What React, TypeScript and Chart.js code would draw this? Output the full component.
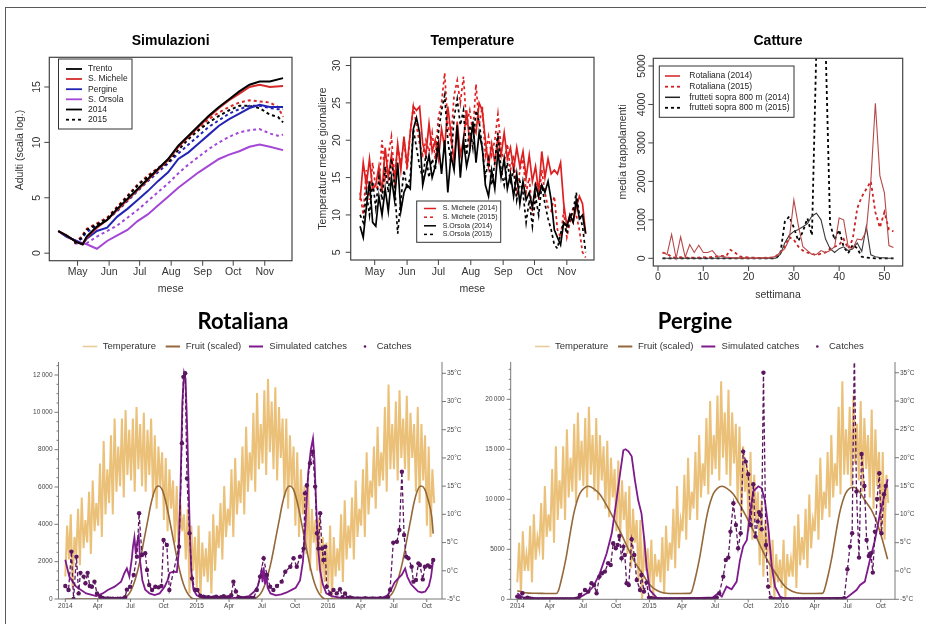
import React, { useEffect, useRef } from "react";
import { Chart, registerables } from "chart.js";

Chart.register(...registerables);

const W = 926;
const H = 624;
const SANS = '"Liberation Sans", Arial, Helvetica, sans-serif';

/* ================= Simulazioni ================= */
const monthTickDays = [121, 152, 182, 213, 244, 274, 305];
const monthTickLabels = ["May", "Jun", "Jul", "Aug", "Sep", "Oct", "Nov"];
const simYTicks = [0, 5, 10, 15];
const simDays2014 = [102, 110, 120, 126, 130, 140, 150, 160, 170, 180, 190, 200, 210, 220, 230, 240, 250, 260, 270, 280, 290, 300, 310, 323];
const simDays2015 = [118, 125, 130, 140, 150, 160, 170, 180, 190, 200, 210, 220, 230, 240, 250, 260, 270, 280, 290, 300, 310, 318, 323];
const trento2014 = [2.0, 1.6, 1.0, 0.8, 1.5, 2.4, 3.0, 4.0, 4.9, 5.8, 6.7, 7.6, 8.5, 9.7, 10.6, 11.5, 12.4, 13.2, 13.9, 14.6, 15.2, 15.5, 15.5, 15.8];
const michele2014 = [2.0, 1.6, 1.0, 0.8, 1.4, 2.3, 3.0, 3.9, 4.8, 5.7, 6.6, 7.5, 8.4, 9.6, 10.5, 11.4, 12.3, 13.1, 13.8, 14.4, 15.0, 15.2, 15.0, 15.1];
const pergine2014 = [2.0, 1.5, 1.1, 0.8, 1.3, 2.0, 2.3, 3.3, 4.0, 4.8, 5.6, 6.5, 7.3, 8.5, 9.1, 9.9, 10.7, 11.5, 12.1, 12.6, 13.1, 13.4, 13.2, 13.2];
const orsola2014 = [2.0, 1.5, 1.1, 0.9, 0.8, 0.4, 1.1, 1.6, 2.1, 2.9, 3.5, 4.3, 5.1, 5.9, 6.6, 7.3, 7.9, 8.5, 8.9, 9.2, 9.6, 9.8, 9.6, 9.3];
const trento2015 = [0.9, 1.4, 2.1, 2.6, 3.1, 4.1, 5.1, 6.1, 6.9, 7.6, 8.2, 9.3, 10.3, 11.1, 11.8, 12.4, 12.9, 13.3, 13.3, 13.1, 12.5, 12.3, 11.8];
const michele2015 = [0.9, 1.5, 2.2, 2.7, 3.2, 4.2, 5.2, 6.2, 7.0, 7.7, 8.3, 9.5, 10.5, 11.3, 12.1, 12.7, 13.2, 13.6, 13.8, 13.7, 13.6, 13.2, 12.3];
const pergine2015 = [0.9, 1.3, 1.9, 2.5, 3.0, 3.8, 4.7, 5.6, 6.5, 7.3, 8.1, 9.0, 9.8, 10.6, 11.4, 12.0, 12.6, 13.0, 13.3, 13.3, 13.1, 13.0, 13.0];
const orsola2015 = [0.9, 0.8, 0.9, 1.5, 2.0, 2.5, 3.2, 3.9, 4.7, 5.5, 6.3, 7.2, 8.0, 8.7, 9.4, 10.0, 10.5, 10.9, 11.1, 11.2, 10.8, 10.6, 10.7];

/* ================= Temperature ================= */
const TEMP_DAY0 = 107;
const TEMP_STEP = 3;
const tempYTicks = [5, 10, 15, 20, 25, 30];
const micheleT2014 = [12, 17, 14, 17.5, 13.5, 14, 16.5, 13, 19, 15, 18, 14.5, 19.5, 16, 20.5, 16.5, 21, 24.5, 24, 24.5, 19.5, 18, 22.2, 18.5, 20, 17.5, 21.5, 19, 24.5, 21, 17, 22.5, 18, 20, 24, 19.5, 22, 21, 25, 24, 20, 16.5, 19.5, 17, 20.5, 18, 21, 17.5, 19, 16, 19, 16.5, 18.5, 15, 18, 14.5, 16.5, 13, 18.5, 15, 17.5, 15.5, 16, 15.5, 17, 11.5, 8.5, 10, 9, 11, 12.5, 11.5, 7.5];
const micheleT2015 = [13, 10, 16, 12, 17, 13.5, 14, 20, 15, 18, 20.5, 15, 19, 17, 20, 16, 21, 24.5, 22, 19.5, 18, 20, 18.5, 21, 17.5, 23, 25, 29, 22, 20, 26, 28, 25, 28.5, 22, 24, 21, 27.5, 22, 24.5, 18, 20.5, 18, 20, 23.5, 19, 17, 19.5, 16, 18, 12.5, 16, 17.5, 13, 15, 10, 14.5, 12, 16, 13, 11, 10.5, 12.5, 8, 7, 10.5, 7, 9, 11, 10, 8, 5, 4.3];
const orsolaT2014 = [8.5, 7, 11, 14.5, 9, 8.5, 12.5, 10, 13.5, 10.5, 15, 12, 17, 10.5, 13, 14, 13.5, 21.5, 23, 21, 14, 16, 18, 15, 16.5, 19.5, 15.5, 20, 13, 18, 16, 22, 15, 20, 16.5, 18.5, 22.5, 17, 21, 19, 14, 12.5, 16, 13.5, 18.5, 15, 17.5, 13.5, 15.5, 12.5, 15.5, 11.5, 14.5, 12, 13, 11, 14, 12.5, 14, 13, 14.5, 12, 8, 7, 6, 9, 8.5, 10, 9, 12, 9.5, 10, 7.5];
const orsolaT2015 = [10, 9, 13, 10, 14.5, 11, 15, 12, 16.5, 13, 17.5, 14, 7.5, 12, 16, 13.5, 15, 21.5, 19, 16.5, 15, 18, 15, 17.5, 16, 21, 24, 26, 20, 17, 23, 25.5, 22, 24, 18, 22, 19, 24, 22.5, 19, 15, 17.5, 14, 17, 21, 16, 14, 17, 14.5, 16, 12, 14.5, 13, 9, 12, 8.5, 12.5, 10, 14, 11.5, 9.5, 8, 6, 5.5, 7.5, 9, 7.5, 9.5, 10.5, 13, 10, 8.5, 5];

/* ================= Catture ================= */
const weekTicks = [0, 10, 20, 30, 40, 50];
const catYTicks = [0, 1000, 2000, 3000, 4000, 5000];
const rotaliana2014 = [150, 100, 620, 0, 560, 30, 360, 150, 340, 150, 150, 200, 60, 50, 30, 20, 10, 10, 10, 5, 5, 5, 10, 10, 20, 50, 150, 250, 500, 1520, 850, 300, 200, 100, 100, 200, 150, 200, 300, 1050, 1000, 300, 250, 500, 480, 700, 2000, 4030, 2150, 1700, 330, 280];
const rotaliana2015 = [150, 120, 30, 20, 30, 20, 20, 15, 20, 30, 20, 40, 50, 60, 50, 220, 150, 50, 30, 20, 20, 10, 10, 15, 20, 50, 150, 300, 550, 480, 300, 200, 150, 120, 80, 120, 150, 250, 300, 350, 500, 250, 500, 1300, 1600, 1800, 2000, 1200, 800, 1200, 750, 700];
const frutteti2014 = [0, 0, 0, 0, 0, 0, 0, 0, 0, 0, 0, 0, 0, 0, 0, 0, 0, 0, 0, 0, 0, 0, 0, 0, 0, 0, 100, 400, 600, 700, 750, 820, 900, 1100, 1170, 1000, 500, 250, 150, 250, 300, 200, 250, 400, 180, 830, 90, 40, 20, 10, 0, 0];
const frutteti2015 = [0, 0, 0, 0, 0, 0, 0, 0, 0, 0, 0, 0, 0, 0, 0, 0, 0, 0, 0, 0, 0, 0, 0, 0, 0, 0, 100, 950, 1090, 800, 450, 700, 1040, 600, 5600, 9500, 5600, 900, 480, 740, 300, 130, 350, 260, 40, 20, 10, 0, 0, 0, 0, 0];

/* ================= Rotaliana / Pergine ================= */
const quarterTickDays = [0, 90, 181, 273, 365, 455, 546, 638, 730, 821, 912, 1004];
const quarterLabels = ["2014", "Apr", "Jul", "Oct", "2015", "Apr", "Jul", "Oct", "2016", "Apr", "Jul", "Oct"];
const tempAxisTicks = [-5, 0, 5, 10, 15, 20, 25, 30, 35];
const rotLeftTicks = [0, 2000, 4000, 6000, 8000, 10000, 12000];
const pergLeftTicks = [0, 5000, 10000, 15000, 20000];
const BAND_STEP = 365.25 / 72;

const rotTemp = [
  -1, 8, 2, 10, -3, 6, 3, 11, 1, 13, 4, 9, 5, 14, 3, 16, 7, 12, 8, 19, 6, 23, 10, 18,
  12, 24, 10, 27, 14, 22, 15, 27, 13, 28.5, 17, 25, 16, 27, 14, 29, 18, 26, 15, 28, 14, 25, 17, 27,
  13, 24, 11, 22, 15, 21, 9, 20, 7, 18, 11, 16, 5, 15, 3, 12, 7, 10, 2, 11, -4, 8, 0, 6,
  -3, 8, -5, 5, -1, 4, -2, 7, -4, 10, 0, 8, 4, 12, 2, 15, 6, 11, 8, 18, 6, 20, 10, 16,
  12, 22, 10, 25.5, 14, 21, 16, 28, 14, 31.5, 18, 26, 19, 32, 17, 34, 21, 30, 18, 32.5, 16, 29, 20, 27,
  13, 27, 11, 24, 15, 22, 8, 21, 6, 18, 10, 15, 3, 15, 0, 11, 5, 9, 0, 9.5, -4, 6, -2, 5,
  -3, 8, -5, 6, -1, 4, 0, 10, -2, 12.5, 2, 8, 4, 13, 2, 16, 6, 11, 8, 18, 6, 21, 10, 16,
  13, 22, 11, 25.5, 15, 21, 16, 29, 14, 33, 18, 26, 18, 30, 16, 32, 20, 27, 18, 31, 16, 28, 20, 26,
  14, 29, 12, 26, 16, 24, 8, 22, 6, 18, 12,
];
const rotFruitDays = [0, 158, 168, 178, 188, 198, 208, 218, 228, 238, 248, 258, 268, 278, 288, 298, 308, 318, 328, 338, 348, 358, 523, 533, 543, 553, 563, 573, 583, 593, 603, 613, 623, 633, 643, 653, 663, 673, 683, 693, 703, 713, 723, 888, 898, 908, 918, 928, 938, 948, 958, 968, 978, 988, 998, 1008, 1018, 1022];
const rotFruit = [0, 0, 100, 300, 700, 1300, 2100, 3100, 4100, 5100, 5800, 6050, 5900, 5300, 4400, 3400, 2400, 1500, 800, 350, 100, 0, 0, 100, 300, 700, 1300, 2100, 3100, 4100, 5100, 5800, 6050, 5900, 5300, 4400, 3400, 2400, 1500, 800, 350, 100, 0, 0, 100, 300, 700, 1300, 2100, 3100, 4100, 5100, 5800, 6050, 5900, 5300, 4400, 3500];
const rotSimDays = [0, 11, 30, 58, 86, 104, 118, 137, 155, 164, 171, 178, 185, 188, 192, 196, 200, 204, 208, 214, 222, 234, 248, 262, 276, 284, 290, 300, 310, 315, 320, 325, 330, 334, 338, 342, 346, 350, 356, 365, 380, 400, 430, 460, 490, 510, 525, 535, 540, 545, 548, 551, 555, 558, 562, 570, 585, 600, 615, 630, 640, 652, 660, 667, 675, 682, 688, 692, 697, 702, 708, 715, 725, 740, 760, 800, 850, 880, 895, 905, 915, 925, 935, 944, 950, 960, 970, 980, 990, 1000, 1010, 1016, 1022];
const rotSim = [2100, 1200, 660, 300, 160, 300, 480, 660, 930, 1380, 1640, 1200, 2200, 2800, 3300, 2400, 3100, 3400, 2000, 1000, 500, 300, 210, 300, 660, 1000, 1400, 1460, 1450, 2500, 6000, 10500, 12100, 11800, 9500, 6500, 3500, 1500, 500, 200, 80, 30, 20, 50, 80, 150, 400, 700, 1100, 1500, 900, 1700, 800, 1400, 600, 300, 200, 250, 350, 500, 600, 1000, 2000, 4000, 6800, 8000, 8600, 7500, 5000, 2800, 1500, 800, 300, 150, 80, 30, 20, 50, 200, 500, 900, 1100, 1300, 1640, 1200, 800, 600, 400, 350, 400, 700, 1200, 2100];
const rotCatchDays = [0, 9, 17, 23, 31, 37, 42, 51, 56, 62, 68, 74, 81, 88, 97, 104, 111, 118, 125, 132, 139, 146, 153, 160, 166, 171, 180, 190, 199, 205, 213, 222, 227, 233, 241, 250, 259, 267, 273, 282, 289, 316, 324, 328, 333, 338, 345, 352, 361, 367, 375, 384, 391, 398, 405, 412, 419, 426, 433, 440, 447, 454, 461, 467, 474, 481, 488, 495, 502, 509, 516, 523, 532, 541, 551, 560, 569, 578, 588, 601, 611, 625, 634, 643, 652, 662, 666, 671, 680, 687, 694, 699, 703, 708, 713, 717, 722, 726, 736, 745, 754, 763, 770, 777, 784, 791, 798, 805, 812, 819, 826, 833, 840, 847, 854, 861, 868, 875, 882, 889, 896, 902, 911, 921, 928, 935, 941, 947, 953, 962, 967, 974, 981, 985, 993, 999, 1007, 1013, 1022];
const rotCatch = [700, 480, 2540, 0, 2270, 300, 1400, 1200, 840, 1400, 700, 660, 930, 300, 120, 50, 20, 30, 10, 20, 0, 10, 20, 10, 100, 500, 660, 1290, 2270, 4590, 2360, 2450, 1550, 750, 480, 660, 625, 700, 3160, 2890, 480, 2800, 8340, 11900, 12090, 6460, 3520, 1100, 480, 480, 180, 120, 80, 100, 50, 80, 120, 60, 100, 150, 80, 100, 200, 930, 400, 100, 50, 20, 40, 20, 60, 50, 480, 1200, 2180, 1290, 660, 480, 700, 930, 1460, 1730, 2180, 1730, 2270, 2700, 5660, 6100, 7270, 7890, 6020, 3520, 2700, 4590, 2700, 2090, 2800, 660, 300, 480, 300, 520, 100, 300, 50, 80, 40, 20, 30, 10, 20, 40, 10, 20, 30, 10, 20, 40, 20, 30, 100, 480, 3020, 3070, 3700, 6820, 3430, 2270, 2180, 1730, 930, 1020, 1910, 1820, 1050, 1730, 1800, 1730, 2090];

const pergTemp = [
  -2, 5, -4, 7, 0, 3, 0, 8, -2, 10, 2, 6, 4, 12, 2, 15, 6, 10, 7, 18, 5, 22, 9, 16,
  11, 22, 9, 25, 13, 20, 14, 26, 12, 28, 16, 23, 15, 27, 13, 29, 17, 24, 14, 27, 12.5, 24, 16, 22,
  11, 23, 9.5, 20, 13, 18, 7, 19.5, 5.5, 16, 9, 14, 3, 15, 0.5, 11, 5, 9, -2, 9, -5, 6, 0, 4,
  -3, 5.5, -5, 3, -1, 2, -2, 6, -4, 8, 0, 5, 2, 11, 0.5, 15, 4, 9, 7, 17, 5.5, 20, 9, 14,
  11, 21, 9, 24, 13, 19, 15, 27, 13.5, 30, 17, 24, 18, 31, 16, 33.5, 20, 28, 17, 32, 15, 28, 19, 26,
  12, 25.5, 10, 22, 14, 19, 7, 21, 5.5, 17, 9, 14, 1, 12.5, -1, 9, 3, 7, -3, 5.5, -5, 3, -2, 2,
  -3, 5.5, -5, 3, -1, 2, -1, 8, -3, 10, 1, 6, 2, 11, 0.5, 13.5, 4, 9, 7, 17, 5.5, 20, 9, 14,
  11, 21, 9.5, 24, 13, 19, 15, 29, 13.5, 33.5, 17, 25, 17, 29, 15, 31, 19, 26, 16, 30, 14, 27, 18, 24,
  13, 28.5, 11, 25, 15, 21, 7, 21, 5.5, 17, 12,
];
const pergFruitDays = [0, 15, 30, 50, 70, 90, 108, 113, 118, 124, 130, 136, 142, 148, 155, 164, 173, 184, 196, 210, 228, 242, 256, 270, 284, 298, 311, 325, 339, 350, 357, 370, 385, 400, 412, 430, 450, 477, 482, 487, 493, 499, 505, 511, 517, 524, 533, 542, 553, 565, 579, 597, 611, 625, 639, 653, 667, 680, 694, 708, 719, 726, 739, 754, 769, 781, 800, 820, 842, 847, 852, 858, 864, 870, 876, 882, 889, 898, 907, 918, 930, 944, 962, 983, 1004, 1023];
const pergFruit = [850, 700, 620, 600, 590, 580, 580, 800, 1400, 2300, 3300, 4400, 5700, 7000, 8400, 9700, 10600, 11100, 11300, 11100, 10500, 9700, 8800, 7800, 6800, 5700, 4700, 3700, 2900, 2300, 1900, 1300, 900, 680, 600, 580, 580, 590, 800, 1400, 2300, 3300, 4400, 5700, 7000, 8400, 9700, 10600, 11100, 11300, 11100, 10500, 9700, 8800, 7800, 6800, 5700, 4700, 3700, 2900, 2300, 1900, 1300, 900, 680, 600, 580, 580, 590, 800, 1400, 2300, 3300, 4400, 5700, 7000, 8400, 9700, 10600, 11100, 11200, 10800, 9800, 8600, 6500, 4000];
const pergSimDays = [0, 10, 26, 164, 192, 210, 228, 247, 261, 274, 284, 293, 299, 307, 316, 325, 334, 343, 351, 357, 366, 385, 403, 541, 555, 565, 578, 592, 606, 615, 624, 634, 643, 652, 666, 675, 684, 693, 703, 712, 726, 744, 910, 937, 947, 960, 974, 988, 1002, 1011, 1023];
const pergSim = [600, 300, 0, 0, 600, 1270, 2600, 4600, 6600, 9900, 12600, 14900, 15000, 14800, 14300, 11900, 9900, 8600, 5900, 3300, 930, 170, 0, 200, 600, 270, 1270, 1000, 1770, 3900, 5300, 5900, 8600, 10800, 11300, 11100, 9900, 7300, 3300, 1270, 270, 0, 170, 930, 1430, 1770, 3900, 5900, 8600, 9900, 12000];
const pergCatchDays = [0, 7, 14, 21, 28, 35, 42, 49, 56, 63, 70, 77, 84, 91, 98, 105, 112, 119, 126, 133, 140, 147, 154, 161, 168, 173, 187, 196, 205, 212, 219, 227, 234, 242, 251, 258, 265, 272, 277, 282, 288, 293, 297, 302, 308, 316, 323, 330, 339, 343, 350, 357, 364, 371, 378, 385, 392, 399, 406, 413, 420, 427, 434, 441, 448, 455, 462, 469, 476, 483, 490, 497, 504, 511, 518, 525, 532, 539, 546, 551, 558, 569, 576, 583, 589, 597, 604, 610, 617, 624, 631, 638, 645, 652, 658, 664, 668, 672, 675, 680, 687, 693, 700, 707, 714, 721, 728, 735, 742, 749, 756, 763, 770, 777, 784, 791, 798, 805, 812, 819, 826, 833, 840, 847, 854, 861, 868, 875, 882, 889, 896, 903, 912, 919, 925, 931, 937, 944, 951, 959, 965, 971, 977, 982, 988, 994, 1000, 1006, 1013, 1018];
const pergCatch = [270, 100, 600, 50, 150, 80, 30, 20, 10, 20, 0, 10, 20, 0, 10, 0, 20, 10, 0, 10, 0, 20, 10, 30, 100, 430, 930, 770, 1600, 1430, 600, 2270, 2600, 2770, 3600, 3430, 5600, 5100, 5430, 6330, 4100, 5270, 4430, 1600, 1430, 6000, 4430, 1930, 930, 2430, 770, 1670, 170, 100, 50, 20, 0, 10, 0, 20, 0, 10, 0, 0, 10, 0, 20, 0, 10, 0, 10, 0, 20, 0, 10, 0, 20, 30, 50, 170, 600, 2270, 3930, 4170, 6770, 9600, 7430, 5100, 6600, 14770, 13770, 12500, 7430, 11500, 6270, 7770, 8700, 8430, 7000, 22670, 5430, 1270, 170, 0, 10, 0, 20, 0, 10, 0, 0, 10, 0, 20, 0, 10, 0, 0, 10, 0, 20, 0, 10, 0, 10, 0, 20, 0, 10, 0, 20, 100, 3000, 5270, 6600, 25000, 10770, 4170, 14530, 11330, 5930, 4330, 4600, 2670, 6770, 10030, 12600, 6600, 10500, 11330];

/* ================= helpers ================= */
type XY = { x: number; y: number };
const zip = (xs: number[], ys: number[]): XY[] => xs.map((x, i) => ({ x, y: ys[i] }));
const stepSeries = (x0: number, step: number, ys: number[]): XY[] => ys.map((y, i) => ({ x: x0 + i * step, y }));

function line(ctx: CanvasRenderingContext2D, x0: number, y0: number, x1: number, y1: number) {
  ctx.beginPath();
  ctx.moveTo(x0, y0);
  ctx.lineTo(x1, y1);
  ctx.stroke();
}

function baseOptions(area: { l: number; t: number; r: number; b: number }, scales: any) {
  return {
    responsive: false,
    animation: false,
    events: [],
    devicePixelRatio: 1,
    layout: { padding: { left: area.l, top: area.t, right: W - area.r, bottom: H - area.b } },
    plugins: { legend: { display: false }, title: { display: false }, tooltip: { enabled: false } },
    elements: { point: { radius: 0 }, line: { tension: 0 } },
    scales,
  };
}

type LegendItem = { label: string; color: string; width: number; dash?: number[] };

function rDecor(o: any) {
  return {
    id: "rDecor",
    afterDatasetsDraw(chart: any) {
      const ctx: CanvasRenderingContext2D = chart.ctx;
      const a = chart.chartArea;
      const sx = chart.scales.x;
      const sy = chart.scales.y;
      ctx.save();
      const lg = o.legend;
      ctx.fillStyle = "#fff";
      ctx.fillRect(lg.x0, lg.y0, lg.x1 - lg.x0, lg.y1 - lg.y0);
      ctx.strokeStyle = "#333";
      ctx.lineWidth = 1;
      ctx.strokeRect(lg.x0, lg.y0, lg.x1 - lg.x0, lg.y1 - lg.y0);
      lg.items.forEach((it: LegendItem, i: number) => {
        const y = lg.rows[i];
        ctx.strokeStyle = it.color;
        ctx.lineWidth = it.width;
        ctx.setLineDash(it.dash || []);
        line(ctx, lg.lx0, y, lg.lx1, y);
        ctx.setLineDash([]);
        ctx.fillStyle = "#222";
        ctx.font = `${lg.font}px ${SANS}`;
        ctx.textAlign = "left";
        ctx.textBaseline = "middle";
        ctx.fillText(it.label, lg.tx, y);
      });
      ctx.strokeStyle = "#444";
      ctx.lineWidth = 1.2;
      ctx.strokeRect(a.left, a.top, a.right - a.left, a.bottom - a.top);
      ctx.fillStyle = "#333";
      ctx.font = `10.5px ${SANS}`;
      ctx.textAlign = "center";
      ctx.textBaseline = "middle";
      ctx.lineWidth = 1;
      o.xTicks.forEach((v: number, i: number) => {
        const px = sx.getPixelForValue(v);
        line(ctx, px, a.bottom, px, a.bottom + 5);
        ctx.fillText(o.xLabels[i], px, o.xLabelY);
      });
      o.yTicks.forEach((v: number) => {
        const py = sy.getPixelForValue(v);
        line(ctx, a.left - 5, py, a.left, py);
        ctx.save();
        ctx.translate(o.yLabelX, py);
        ctx.rotate(-Math.PI / 2);
        ctx.fillText(String(v), 0, 0);
        ctx.restore();
      });
      ctx.fillText(o.xTitle, (a.left + a.right) / 2, o.xTitleY);
      ctx.save();
      ctx.translate(o.yTitleX, o.yTitleY);
      ctx.rotate(-Math.PI / 2);
      ctx.fillText(o.yTitle, 0, 0);
      ctx.restore();
      ctx.fillStyle = "#000";
      ctx.font = `bold 14px ${SANS}`;
      ctx.fillText(o.title, (a.left + a.right) / 2, o.titleY);
      ctx.restore();
    },
  };
}

const TEMP_COLOR = "rgba(233,186,108,0.9)";
const FRUIT_COLOR = "#94683a";
const SIM_COLOR = "#7e1a8c";
const CATCH_COLOR = "#5b1660";

function mDecor(o: any) {
  return {
    id: "mDecor",
    afterDatasetsDraw(chart: any) {
      const ctx: CanvasRenderingContext2D = chart.ctx;
      const a = chart.chartArea;
      const sx = chart.scales.x;
      const yl = chart.scales.y;
      const yr = chart.scales.yT;
      ctx.save();
      ctx.strokeStyle = "#6a6a6a";
      ctx.lineWidth = 0.9;
      line(ctx, a.left, a.top, a.left, a.bottom);
      line(ctx, a.left, a.bottom, a.right, a.bottom);
      line(ctx, a.right, a.top, a.right, a.bottom);
      ctx.font = `6.5px ${SANS}`;
      ctx.fillStyle = "#444";
      ctx.textBaseline = "middle";
      ctx.textAlign = "right";
      o.leftTicks.forEach((v: number) => {
        const py = yl.getPixelForValue(v);
        line(ctx, a.left - 4, py, a.left, py);
        const s = v >= 10000 ? `${Math.floor(v / 1000)}\u2009${String(v % 1000).padStart(3, "0")}` : String(v);
        ctx.fillText(s, a.left - 6, py);
      });
      for (let v = o.minorStep; v < yl.max; v += o.minorStep) {
        if (o.leftTicks.indexOf(v) >= 0) continue;
        const py = yl.getPixelForValue(v);
        line(ctx, a.left - 2, py, a.left, py);
      }
      ctx.textAlign = "left";
      tempAxisTicks.forEach((v) => {
        const py = yr.getPixelForValue(v);
        line(ctx, a.right, py, a.right + 4, py);
        ctx.fillText(`${v}°C`, a.right + 5, py);
      });
      ctx.textAlign = "center";
      quarterTickDays.forEach((d, i) => {
        const px = sx.getPixelForValue(d);
        line(ctx, px, a.bottom, px, a.bottom + 3);
        ctx.fillText(quarterLabels[i], px, a.bottom + 7);
      });
      ctx.fillStyle = "#000";
      ctx.font = `bold 22px Lato, ${SANS}`;
      ctx.fillText(o.title, o.titleX, o.titleY);
      const ly = o.legendY;
      const dx = o.legendDx;
      ctx.font = `9.5px ${SANS}`;
      ctx.textAlign = "left";
      ctx.fillStyle = "#333";
      ctx.lineWidth = 1.6;
      ctx.strokeStyle = "#e8cc98";
      line(ctx, 82.7 + dx, ly, 97.3 + dx, ly);
      ctx.fillText("Temperature", 102.7 + dx, ly);
      ctx.lineWidth = 2;
      ctx.strokeStyle = FRUIT_COLOR;
      line(ctx, 165.7 + dx, ly, 180 + dx, ly);
      ctx.fillText("Fruit (scaled)", 185.7 + dx, ly);
      ctx.strokeStyle = SIM_COLOR;
      line(ctx, 249 + dx, ly, 263 + dx, ly);
      ctx.fillText("Simulated catches", 269.3 + dx, ly);
      ctx.fillStyle = CATCH_COLOR;
      ctx.beginPath();
      ctx.arc(365 + dx, ly, 1.3, 0, Math.PI * 2);
      ctx.fill();
      ctx.fillStyle = "#333";
      ctx.fillText("Catches", 376.7 + dx, ly);
      ctx.restore();
    },
  };
}

/* ================= chart configs ================= */
const RED = "#d42a2a";
const BLUE = "#2424b4";
const PURPLE = "#a447d6";
const DOT = [3, 3];

function simConfig() {
  const ds = (label: string, days: number[], vals: number[], color: string, dash?: number[]) => ({
    label,
    data: zip(days, vals),
    borderColor: color,
    borderWidth: 2,
    borderDash: dash || [],
    pointRadius: 0,
    fill: false,
  });
  return {
    type: "line",
    data: {
      datasets: [
        ds("Trento 2014", simDays2014, trento2014, "#000"),
        ds("S. Michele 2014", simDays2014, michele2014, RED),
        ds("Pergine 2014", simDays2014, pergine2014, BLUE),
        ds("S. Orsola 2014", simDays2014, orsola2014, PURPLE),
        ds("Trento 2015", simDays2015, trento2015, "#000", DOT),
        ds("S. Michele 2015", simDays2015, michele2015, RED, DOT),
        ds("Pergine 2015", simDays2015, pergine2015, BLUE, DOT),
        ds("S. Orsola 2015", simDays2015, orsola2015, PURPLE, DOT),
      ],
    },
    options: baseOptions(
      { l: 49.3, t: 57.3, r: 292, b: 260.7 },
      {
        x: { type: "linear", display: false, min: 93.2, max: 331.8 },
        y: { type: "linear", display: false, min: -0.68, max: 17.68 },
      }
    ),
    plugins: [
      rDecor({
        title: "Simulazioni",
        titleY: 41,
        xTicks: monthTickDays,
        xLabels: monthTickLabels,
        xLabelY: 272,
        xTitle: "mese",
        xTitleY: 289.5,
        yTicks: simYTicks,
        yLabelX: 37.3,
        yTitle: "Adulti (scala log.)",
        yTitleX: 20,
        yTitleY: 150,
        legend: {
          x0: 58.5, y0: 59, x1: 132, y1: 129,
          rows: [69, 79, 89.2, 99.3, 109.5, 119.7],
          lx0: 66, lx1: 82, tx: 88, font: 8.5,
          items: [
            { label: "Trento", color: "#000", width: 1.8 },
            { label: "S. Michele", color: RED, width: 1.8 },
            { label: "Pergine", color: BLUE, width: 1.8 },
            { label: "S. Orsola", color: PURPLE, width: 1.8 },
            { label: "2014", color: "#000", width: 1.8 },
            { label: "2015", color: "#000", width: 1.8, dash: DOT },
          ],
        },
      }),
    ],
  };
}

function tempConfig() {
  const ds = (label: string, vals: number[], color: string, dash?: number[]) => ({
    label,
    data: stepSeries(TEMP_DAY0, TEMP_STEP, vals),
    borderColor: color,
    borderWidth: 1.7,
    borderDash: dash || [],
    pointRadius: 0,
    fill: false,
  });
  return {
    type: "line",
    data: {
      datasets: [
        ds("S.Orsola (2015)", orsolaT2015, "#000", DOT),
        ds("S.Orsola (2014)", orsolaT2014, "#000"),
        ds("S. Michele (2015)", micheleT2015, "#dd1f1f", DOT),
        ds("S. Michele (2014)", micheleT2014, "#dd1f1f"),
      ],
    },
    options: baseOptions(
      { l: 350.7, t: 57.3, r: 594, b: 260 },
      {
        x: { type: "linear", display: false, min: 98, max: 331 },
        y: { type: "linear", display: false, min: 3.97, max: 31.1 },
      }
    ),
    plugins: [
      rDecor({
        title: "Temperature",
        titleY: 41,
        xTicks: monthTickDays,
        xLabels: monthTickLabels,
        xLabelY: 272,
        xTitle: "mese",
        xTitleY: 289.5,
        yTicks: tempYTicks,
        yLabelX: 337.3,
        yTitle: "Temperature medie giornaliere",
        yTitleX: 322.7,
        yTitleY: 158.5,
        legend: {
          x0: 416.7, y0: 201, x1: 500.7, y1: 242.3,
          rows: [208.5, 217.2, 225.8, 234.4],
          lx0: 424, lx1: 436, tx: 442.7, font: 7,
          items: [
            { label: "S. Michele (2014)", color: "#dd1f1f", width: 1.5 },
            { label: "S. Michele (2015)", color: "#dd1f1f", width: 1.5, dash: DOT },
            { label: "S.Orsola (2014)", color: "#000", width: 1.5 },
            { label: "S.Orsola (2015)", color: "#000", width: 1.5, dash: DOT },
          ],
        },
      }),
    ],
  };
}

function cattureConfig() {
  const weeks = rotaliana2014.map((_, i) => i + 1);
  const ds = (label: string, vals: number[], color: string, width: number, dash?: number[]) => ({
    label,
    data: zip(weeks, vals),
    borderColor: color,
    borderWidth: width,
    borderDash: dash || [],
    pointRadius: 0,
    fill: false,
  });
  return {
    type: "line",
    data: {
      datasets: [
        ds("Rotaliana (2014)", rotaliana2014, "#b84848", 1.1),
        ds("frutteti sopra 800 m (2014)", frutteti2014, "#3a3a3a", 1.1),
        ds("Rotaliana (2015)", rotaliana2015, "#cc2222", 1.8, DOT),
        ds("frutteti sopra 800 m (2015)", frutteti2015, "#000", 1.8, DOT),
      ],
    },
    options: baseOptions(
      { l: 653.3, t: 58.3, r: 902.7, b: 266 },
      {
        x: { type: "linear", display: false, min: -1.04, max: 54.04 },
        y: { type: "linear", display: false, min: -200, max: 5200 },
      }
    ),
    plugins: [
      rDecor({
        title: "Catture",
        titleY: 41.5,
        xTicks: weekTicks,
        xLabels: weekTicks.map(String),
        xLabelY: 277.5,
        xTitle: "settimana",
        xTitleY: 295,
        yTicks: catYTicks,
        yLabelX: 642.3,
        yTitle: "media trappolamenti",
        yTitleX: 623,
        yTitleY: 152,
        legend: {
          x0: 659.3, y0: 66, x1: 794, y1: 117.3,
          rows: [76, 86.7, 97.3, 107.8],
          lx0: 665, lx1: 680, tx: 689.3, font: 8.5,
          items: [
            { label: "Rotaliana (2014)", color: "#d42020", width: 1.5 },
            { label: "Rotaliana (2015)", color: "#d42020", width: 1.8, dash: DOT },
            { label: "frutteti sopra 800 m (2014)", color: "#222", width: 1.5 },
            { label: "frutteti sopra 800 m (2015)", color: "#000", width: 1.8, dash: DOT },
          ],
        },
      }),
    ],
  };
}

function mathConfig(p: any) {
  return {
    type: "line",
    data: {
      datasets: [
        {
          label: "Catches",
          order: 0,
          data: zip(p.catchDays, p.catch),
          yAxisID: "y",
          borderColor: CATCH_COLOR,
          borderWidth: 1.3,
          borderDash: [4, 2.5],
          pointRadius: 2.2,
          pointBackgroundColor: CATCH_COLOR,
          pointBorderWidth: 0,
          fill: false,
        },
        {
          label: "Simulated catches",
          order: 1,
          data: zip(p.simDays, p.sim),
          yAxisID: "y",
          borderColor: SIM_COLOR,
          borderWidth: 1.8,
          pointRadius: 0,
          fill: false,
        },
        {
          label: "Fruit (scaled)",
          order: 2,
          data: zip(p.fruitDays, p.fruit),
          yAxisID: "y",
          borderColor: FRUIT_COLOR,
          borderWidth: 1.6,
          pointRadius: 0,
          cubicInterpolationMode: "monotone",
          fill: false,
        },
        {
          label: "Temperature",
          order: 3,
          data: stepSeries(0, BAND_STEP, p.temp),
          yAxisID: "yT",
          borderColor: TEMP_COLOR,
          borderWidth: 2,
          borderJoinStyle: "miter",
          pointRadius: 0,
          fill: false,
        },
      ],
    },
    options: baseOptions(p.area, {
      x: { type: "linear", display: false, min: p.xmin, max: p.xmax },
      y: { type: "linear", display: false, min: 0, max: p.ymax },
      yT: { type: "linear", display: false, position: "right", min: -5, max: p.tmax },
    }),
    plugins: [
      mDecor({
        title: p.title,
        titleX: p.titleX,
        titleY: 322,
        legendY: 346.5,
        legendDx: p.legendDx,
        leftTicks: p.leftTicks,
        minorStep: p.minorStep,
      }),
    ],
  };
}

function rotConfig() {
  return mathConfig({
    title: "Rotaliana",
    titleX: 243,
    legendDx: 0,
    area: { l: 58.5, t: 362, r: 442, b: 599 },
    xmin: -18.9,
    xmax: 1046.4,
    ymax: 12696,
    tmax: 37.0,
    leftTicks: rotLeftTicks,
    minorStep: 500,
    temp: rotTemp,
    fruitDays: rotFruitDays,
    fruit: rotFruit,
    simDays: rotSimDays,
    sim: rotSim,
    catchDays: rotCatchDays,
    catch: rotCatch,
  });
}

function pergConfig() {
  return mathConfig({
    title: "Pergine",
    titleX: 695,
    legendDx: 452.3,
    area: { l: 510.7, t: 362, r: 895, b: 599.3 },
    xmin: -18.2,
    xmax: 1043.4,
    ymax: 23730,
    tmax: 36.9,
    leftTicks: pergLeftTicks,
    minorStep: 1000,
    temp: pergTemp,
    fruitDays: pergFruitDays,
    fruit: pergFruit,
    simDays: pergSimDays,
    sim: pergSim,
    catchDays: pergCatchDays,
    catch: pergCatch,
  });
}

function Layer({ build }: { build: () => any }) {
  const ref = useRef<HTMLCanvasElement>(null);
  useEffect(() => {
    const chart = new Chart(ref.current as HTMLCanvasElement, build());
    return () => chart.destroy();
  }, [build]);
  return (
    <canvas
      ref={ref}
      width={W}
      height={H}
      style={{ position: "absolute", left: 0, top: 0, width: W, height: H }}
    />
  );
}

export default function App() {
  return (
    <div
      style={{
        position: "fixed",
        left: 0,
        top: 0,
        width: W,
        height: H,
        background: "#fff",
        overflow: "hidden",
      }}
    >
      <div
        style={{
          position: "absolute",
          left: 4.5,
          top: 6.5,
          width: W,
          height: H,
          borderTop: "1.5px solid #5a5a5a",
          borderLeft: "1.5px solid #5a5a5a",
        }}
      />
      <Layer build={simConfig} />
      <Layer build={tempConfig} />
      <Layer build={cattureConfig} />
      <Layer build={rotConfig} />
      <Layer build={pergConfig} />
    </div>
  );
}
